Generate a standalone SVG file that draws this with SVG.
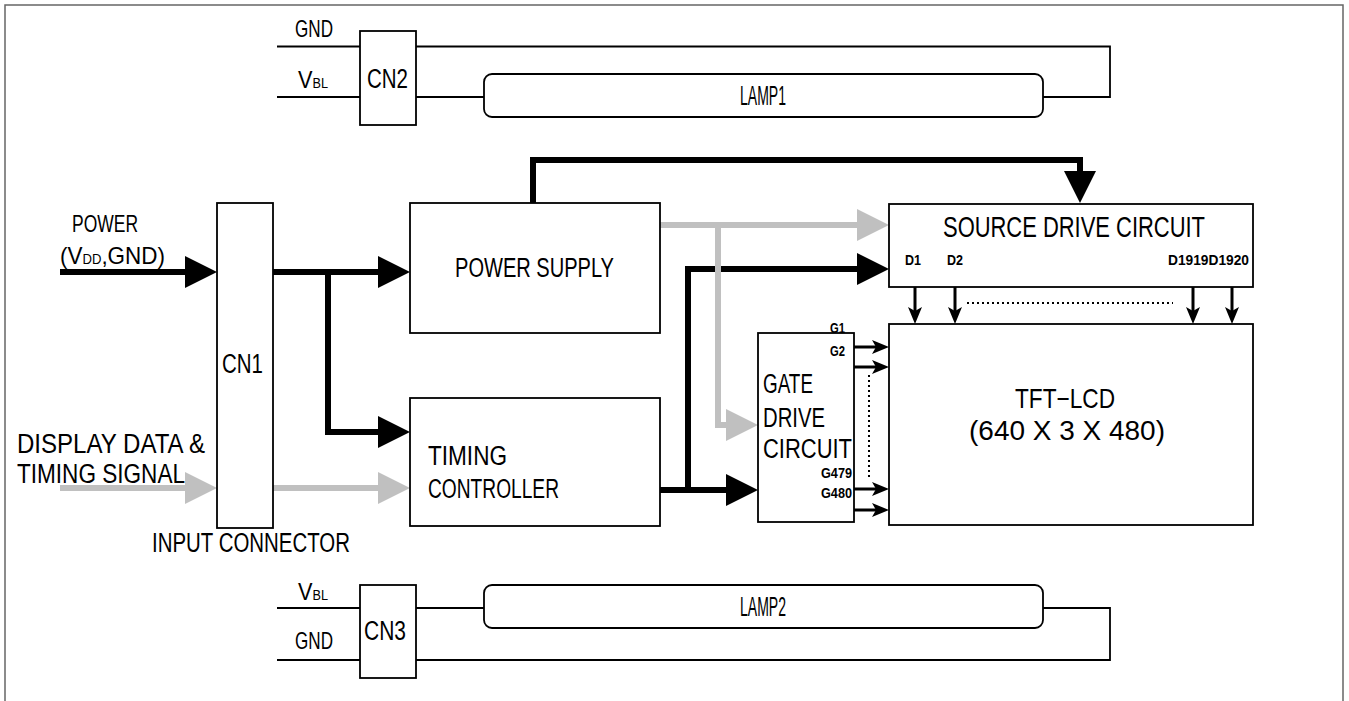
<svg xmlns="http://www.w3.org/2000/svg" width="1349" height="701" viewBox="0 0 1349 701">
<style>
.box{fill:#fff;stroke:#000;stroke-width:1.8}
.wire{fill:none;stroke:#000;stroke-width:1.8}
.thick{fill:none;stroke:#000;stroke-width:6;stroke-linejoin:miter}
.gray{fill:none;stroke:#c0c0c0;stroke-width:6;stroke-linejoin:miter}
.thin{fill:none;stroke:#000;stroke-width:3}
.dot{fill:none;stroke:#000;stroke-width:2;stroke-dasharray:2 3}
text{font-family:"Liberation Sans Narrow","Liberation Sans",Arial,sans-serif;fill:#000}
.t24{font-size:24px}
.t27{font-size:27px}
.t30{font-size:30px}
.t28{font-size:28px}
.sm{font-size:15px;font-weight:bold}
</style>
<defs>
<marker id="ab" markerUnits="userSpaceOnUse" markerWidth="34" markerHeight="34" refX="0" refY="16" orient="auto" viewBox="0 0 34 34" overflow="visible">
<path d="M0,0 L32,16 L0,32 z" fill="#000"/>
</marker>
<marker id="ag" markerUnits="userSpaceOnUse" markerWidth="34" markerHeight="34" refX="0" refY="16" orient="auto" viewBox="0 0 34 34" overflow="visible">
<path d="M0,0 L32,16 L0,32 z" fill="#c0c0c0"/>
</marker>
<marker id="as" markerUnits="userSpaceOnUse" markerWidth="18" markerHeight="16" refX="4" refY="8" orient="auto" viewBox="0 0 18 16" overflow="visible">
<path d="M0,1 L17,8 L0,15 L4,8 z" fill="#000"/>
</marker>
</defs>

<path d="M5,701 V5 H1343 V701" fill="none" stroke="#666" stroke-width="1.5"/>

<g id="connectors">
<path class="wire" d="M277,46.5 H360 M277,97 H360 M416,46.5 H1110 V97 H1043 M416,97 H484"/>
<path class="wire" d="M277,608 H360 M277,660 H360 M416,660 H1110 V608 H1043 M416,608 H484"/>
<path class="thick" d="M60,272 H185" marker-end="url(#ab)"/>
<path class="thick" d="M273,272 H378" marker-end="url(#ab)"/>
<path class="thick" d="M328,272 V432 H378" marker-end="url(#ab)"/>
<path class="thick" d="M533,203 V160 H1080 V171" marker-end="url(#ab)"/>
<path class="thick" d="M660,490 H726" marker-end="url(#ab)"/>
<path class="thick" d="M688,490 V269 H857" marker-end="url(#ab)"/>
<path class="gray" d="M60,488 H185" marker-end="url(#ag)"/>
<path class="gray" d="M273,488 H378" marker-end="url(#ag)"/>
<path class="gray" d="M660,225 H857" marker-end="url(#ag)"/>
<path class="gray" d="M718,225 V425 H726" marker-end="url(#ag)"/>
<path class="thin" d="M854,347 H876" marker-end="url(#as)"/>
<path class="thin" d="M854,367 H876" marker-end="url(#as)"/>
<path class="thin" d="M854,489 H876" marker-end="url(#as)"/>
<path class="thin" d="M854,510 H876" marker-end="url(#as)"/>
<path class="thin" d="M915,287 V311" marker-end="url(#as)"/>
<path class="thin" d="M955,287 V311" marker-end="url(#as)"/>
<path class="thin" d="M1193,287 V311" marker-end="url(#as)"/>
<path class="thin" d="M1232,287 V311" marker-end="url(#as)"/>
<path class="dot" d="M869,375 V477"/>
<path class="dot" d="M967,303 H1173"/>
</g>

<g id="labels">
<text class="t24" x="295" y="37" textLength="38" lengthAdjust="spacingAndGlyphs">GND</text>
<text class="t24" x="298" y="88" textLength="30" lengthAdjust="spacingAndGlyphs">V<tspan font-size="14">BL</tspan></text>
<text class="t24" x="298" y="600" textLength="30" lengthAdjust="spacingAndGlyphs">V<tspan font-size="14">BL</tspan></text>
<text class="t24" x="295" y="649" textLength="38" lengthAdjust="spacingAndGlyphs">GND</text>
<text class="t24" x="72" y="232" textLength="66" lengthAdjust="spacingAndGlyphs">POWER</text>
<text class="t24" x="60" y="264" textLength="105" lengthAdjust="spacingAndGlyphs">(V<tspan font-size="14">DD</tspan>,GND)</text>
<text class="t27" x="17" y="453" textLength="188" lengthAdjust="spacingAndGlyphs">DISPLAY DATA &amp;</text>
<text class="t27" x="17" y="483" textLength="168" lengthAdjust="spacingAndGlyphs">TIMING SIGNAL</text>
<text class="t27" x="152" y="552" textLength="198" lengthAdjust="spacingAndGlyphs">INPUT CONNECTOR</text>
</g>

<g id="cn2">
<rect class="box" x="360" y="31" width="56" height="94"/>
<text class="t27" x="367" y="88" textLength="41" lengthAdjust="spacingAndGlyphs">CN2</text>
</g>
<g id="lamp1">
<rect class="box" x="484" y="74" width="559" height="43" rx="8"/>
<text class="t27" x="740" y="105" textLength="46" lengthAdjust="spacingAndGlyphs">LAMP1</text>
</g>
<g id="cn3">
<rect class="box" x="360" y="585" width="56" height="93"/>
<text class="t27" x="364" y="640" textLength="42" lengthAdjust="spacingAndGlyphs">CN3</text>
</g>
<g id="lamp2">
<rect class="box" x="484" y="585" width="559" height="43" rx="8"/>
<text class="t27" x="740" y="616" textLength="46" lengthAdjust="spacingAndGlyphs">LAMP2</text>
</g>
<g id="cn1">
<rect class="box" x="217" y="203" width="56" height="325"/>
<text class="t27" x="222" y="373" textLength="41" lengthAdjust="spacingAndGlyphs">CN1</text>
</g>
<g id="power-supply">
<rect class="box" x="410" y="203" width="250" height="130"/>
<text class="t27" x="455" y="277" textLength="159" lengthAdjust="spacingAndGlyphs">POWER SUPPLY</text>
</g>
<g id="timing-controller">
<rect class="box" x="410" y="398" width="250" height="128"/>
<text class="t27" x="428" y="465" textLength="79" lengthAdjust="spacingAndGlyphs">TIMING</text>
<text class="t27" x="428" y="498" textLength="131" lengthAdjust="spacingAndGlyphs">CONTROLLER</text>
</g>
<g id="source-drive">
<rect class="box" x="889" y="204" width="364" height="83"/>
<text class="t30" x="943" y="237" textLength="262" lengthAdjust="spacingAndGlyphs">SOURCE DRIVE CIRCUIT</text>
<text class="sm" x="905" y="265" textLength="16" lengthAdjust="spacingAndGlyphs">D1</text>
<text class="sm" x="947" y="265" textLength="16" lengthAdjust="spacingAndGlyphs">D2</text>
<text class="sm" x="1168" y="265" textLength="81" lengthAdjust="spacingAndGlyphs">D1919D1920</text>
</g>
<g id="gate-drive">
<rect class="box" x="758" y="333" width="96" height="189"/>
<text class="t27" x="763" y="393" textLength="50" lengthAdjust="spacingAndGlyphs">GATE</text>
<text class="t27" x="763" y="427" textLength="62" lengthAdjust="spacingAndGlyphs">DRIVE</text>
<text class="t27" x="763" y="458" textLength="89" lengthAdjust="spacingAndGlyphs">CIRCUIT</text>
<text class="sm" x="830" y="333" textLength="15" lengthAdjust="spacingAndGlyphs">G1</text>
<text class="sm" x="830" y="356" textLength="15" lengthAdjust="spacingAndGlyphs">G2</text>
<text class="sm" x="821" y="478" textLength="31" lengthAdjust="spacingAndGlyphs">G479</text>
<text class="sm" x="821" y="498" textLength="31" lengthAdjust="spacingAndGlyphs">G480</text>
</g>
<g id="tft-lcd">
<rect class="box" x="889" y="324" width="364" height="201"/>
<text class="t28" x="1015" y="408" textLength="100" lengthAdjust="spacingAndGlyphs">TFT−LCD</text>
<text class="t28" x="969" y="440" textLength="196" lengthAdjust="spacingAndGlyphs">(640 X 3 X 480)</text>
</g>
</svg>
